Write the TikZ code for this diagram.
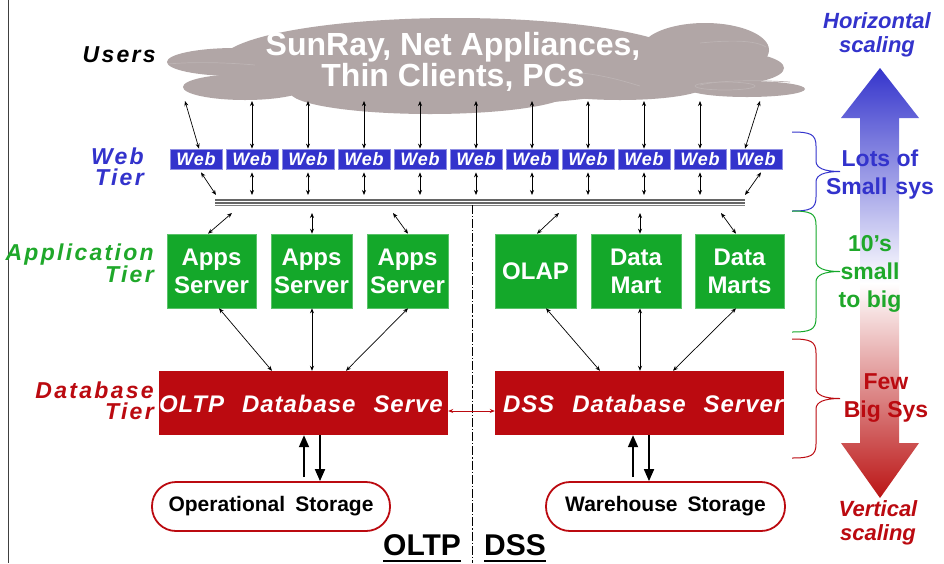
\documentclass[tikz,border=0pt]{standalone}
\usepackage{fontspec}
\setmainfont{Liberation Sans}
\newfontfamily\spacedfont[LetterSpace=10]{Liberation Sans}
\newfontfamily\lightspaced[LetterSpace=4]{Liberation Sans}
\usetikzlibrary{arrows.meta}
\definecolor{webblue}{HTML}{3333CC}
\definecolor{appgreen}{HTML}{14A82A}
\definecolor{labgreen}{HTML}{1FA82A}
\definecolor{dbred}{HTML}{BB0A10}
\definecolor{cloudc}{HTML}{B1A6A6}
\definecolor{cloudl}{HTML}{BDB4B4}
\definecolor{arrblue}{HTML}{3535CC}
\definecolor{arrred}{HTML}{BB1515}
\newcommand\myfs[2]{\fontsize{#1}{#2}\selectfont}
\tikzset{
  webbox/.style={fill=webblue, draw=webblue!55!white, line width=0.8pt, minimum width=52pt, minimum height=20pt, inner sep=0pt, text=white, font=\lightspaced\bfseries\itshape\myfs{18}{18}},
  appbox/.style={fill=appgreen, draw=appgreen!70!white, line width=0.6pt, minimum height=74pt, inner sep=0pt, text=white, align=center, font=\bfseries\myfs{24}{28}},
  dbbox/.style={fill=dbred, minimum width=289pt, minimum height=64pt, inner sep=0pt},
  dbtext/.style={text=white, inner sep=0pt, font=\lightspaced\bfseries\itshape\myfs{24}{24}},
  storebox/.style={draw=dbred, line width=1.8pt, fill=white, rounded corners=24pt, minimum height=49pt, inner sep=0pt, font=\bfseries\myfs{21}{21}},
  tierlab/.style={inner sep=0pt, align=right, font=\spacedfont\bfseries\itshape\myfs{23}{21}},
  sidelab/.style={inner sep=0pt, align=center, font=\bfseries\myfs{23}{28}},
  scalelab/.style={inner sep=0pt, align=center, font=\bfseries\itshape\myfs{22}{24}},
  arr/.style={{Stealth[length=5pt,width=4pt]}-{Stealth[length=5pt,width=4pt]}, line width=0.7pt},
  bigup/.style={-{Triangle[length=12pt,width=10pt]}, line width=1.8pt},
  bracepath/.style={line width=1pt}
}
\begin{document}
\begin{tikzpicture}[x=1pt,y=-1pt]
\useasboundingbox (0,0) rectangle (944,563);
\fill[white] (0,0) rectangle (944,563);
% left border
\coordinate (bordertop) at (8,0);
\coordinate (borderbot) at (8,563);
\draw[line width=1pt, black!75] (bordertop) -- (borderbot);

% cloud
\begin{scope}[fill=cloudc]
  \fill (235,62) ellipse [x radius=68, y radius=14];
  \fill (245,87) ellipse [x radius=62, y radius=13];
  \fill (705,50) ellipse [x radius=64, y radius=27];
  \fill (722,68) ellipse [x radius=62, y radius=17];
  \fill (747,89) ellipse [x radius=58, y radius=8];
  \fill (620,86) ellipse [x radius=85, y radius=14];
  \fill (455,62) ellipse [x radius=235, y radius=44];
  \fill (430,92) ellipse [x radius=140, y radius=22];
\end{scope}
\begin{scope}[draw=cloudl, line width=0.7pt]
  \draw (725,86) ellipse [x radius=30, y radius=4];
  \draw (700,85) .. controls (720,80) and (760,80) .. (790,82);
  \draw (168,64) .. controls (190,62) and (220,62) .. (255,65);
  \draw (570,72) .. controls (600,74) and (620,80) .. (640,86);
  \draw (700,43) .. controls (730,40) and (755,40) .. (766,47);
\end{scope}
\node[inner sep=0pt, text=white, align=center, font=\bfseries\myfs{32}{29}] (cloudtext) at (453,62) {SunRay, Net Appliances,\\Thin Clients, PCs};

% labels on the left
\node[inner sep=0pt, anchor=base east, font=\spacedfont\bfseries\itshape\myfs{23}{23}] (users) at (156,62) {Users};
\node[tierlab, text=webblue, anchor=east] (webtier) at (144,166.5) {Web\\Tier};
\node[tierlab, text=labgreen, anchor=east] (apptier) at (154,263.5) {Application\\Tier};
\node[tierlab, text=dbred, anchor=east] (dbtier) at (154,400.5) {Database\\Tier};

% web boxes
\foreach \i in {1,...,11} {
  \node[webbox] (web\i) at ({196+56*(\i-1)},159) {Web};
}
% cloud -> web arrows
\coordinate (cloudbase) at (0,101);
\coordinate (cl1) at (185,101);
\coordinate (cl11) at (760,101);
\draw[arr] (cl1) -- ([xshift=3pt]web1.north);
\draw[arr] (cl11) -- ([xshift=-11pt]web11.north);
\foreach \i in {2,...,10} {
  \draw[arr] (web\i.north |- cloudbase) -- (web\i.north);
}
% bus
\coordinate (busL) at (215,200);
\coordinate (busR) at (745,200);
\coordinate (busTop) at (0,195);
\coordinate (busBot) at (0,213);
\draw[line width=2.2pt, black!60] (busL) -- (busR);
\draw[line width=1.2pt, black!60] ([yshift=-2.9pt]busL) -- ([yshift=-2.9pt]busR);
\draw[line width=1pt, black!50] ([yshift=-5.7pt]busL) -- ([yshift=-5.7pt]busR);
% web -> bus arrows
\coordinate (bl1) at (216,195);
\coordinate (bl11) at (745,195);
\draw[arr] ([xshift=5pt,yshift=-3pt]web1.south) -- (bl1);
\draw[arr] ([xshift=5pt,yshift=-3pt]web11.south) -- (bl11);
\foreach \i in {2,...,10} {
  \draw[arr] ([yshift=-3pt]web\i.south) -- (web\i.south |- busTop);
}
% dash-dot separator
\coordinate (septop) at (472,205);
\coordinate (sepbot) at (472,563);
\draw[line width=0.8pt, dash pattern=on 9pt off 2pt on 1.2pt off 2pt] (septop) -- (sepbot);

% application tier
\node[appbox, minimum width=89pt] (apps1) at (211.5,271) {Apps\\Server};
\node[appbox, minimum width=81pt] (apps2) at (311.5,271) {Apps\\Server};
\node[appbox, minimum width=81pt] (apps3) at (407.5,271) {Apps\\Server};
\node[appbox, minimum width=81pt] (olap) at (535.5,271) {OLAP};
\node[appbox, minimum width=90pt] (dmart) at (636,271) {Data\\Mart};
\node[appbox, minimum width=89pt] (dmarts) at (739.5,271) {Data\\Marts};

% bus -> apps
\coordinate (ba1) at (232,213);
\coordinate (ba2) at (312,213);
\coordinate (ba3) at (393,213);
\coordinate (ba4) at (559,213);
\coordinate (ba5) at (640,213);
\coordinate (ba6) at (721,213);
\draw[arr] (ba1) -- ([xshift=-3.5pt]apps1.north);
\draw[arr] (ba2) -- ([xshift=0.5pt]apps2.north);
\draw[arr] (ba3) -- ([xshift=0.5pt]apps3.north);
\draw[arr] (ba4) -- ([xshift=1.5pt]olap.north);
\draw[arr] (ba5) -- ([xshift=4pt]dmart.north);
\draw[arr] (ba6) -- ([xshift=-3.5pt]dmarts.north);

% database tier
\node[dbbox] (oltp) at (303.5,403) {};
\node[dbbox] (dss) at (639.5,403) {};
\begin{scope}
  \clip (oltp.north west) rectangle (oltp.south east);
  \node[dbtext, anchor=west] (oltptext) at ([xshift=0pt,yshift=-1pt]oltp.west) {OLTP\hspace{18pt}Database\hspace{18pt}Serve};
\end{scope}
\begin{scope}
  \clip (dss.north west) rectangle (dss.south east);
  \node[dbtext, anchor=west] (dsstext) at ([xshift=8pt,yshift=-1pt]dss.west) {DSS\hspace{18pt}Database\hspace{18pt}Server};
\end{scope}

% apps -> db
\draw[arr] ([xshift=7.5pt]apps1.south) -- ([xshift=-31.5pt]oltp.north);
\draw[arr] ([xshift=0.5pt]apps2.south) -- ([xshift=8.5pt]oltp.north);
\draw[arr] ([xshift=0.5pt]apps3.south) -- ([xshift=42.5pt]oltp.north);
\draw[arr] ([xshift=10.5pt]olap.south) -- ([xshift=-39.5pt]dss.north);
\draw[arr] ([xshift=4pt]dmart.south) -- ([xshift=0.5pt]dss.north);
\draw[arr] ([xshift=-3.5pt]dmarts.south) -- ([xshift=33.5pt]dss.north);

% red link between db servers
\draw[arr, dbred] ([yshift=-8pt]oltp.east) -- ([yshift=-8pt]dss.west);

% storage
\node[storebox, minimum width=238pt] (opstore) at (271,506.5) {Operational\hspace{10pt}Storage};
\node[storebox, minimum width=239pt] (whstore) at (665.5,506.5) {Warehouse\hspace{10pt}Storage};
\draw[bigup] ([xshift=33pt,yshift=4pt]opstore.north) -- ([xshift=0.5pt]oltp.south);
\draw[bigup] ([xshift=16.5pt]oltp.south) -- ([xshift=49pt]opstore.north);
\draw[bigup] ([xshift=-32.5pt,yshift=4pt]whstore.north) -- ([xshift=-6.5pt]dss.south);
\draw[bigup] ([xshift=9.5pt]dss.south) -- ([xshift=-16.5pt]whstore.north);

% bottom labels
\node[inner sep=0pt, anchor=base west, font=\bfseries\myfs{30}{30}] (oltplab) at (383,555) {OLTP};
\node[inner sep=0pt, anchor=base west, font=\bfseries\myfs{30}{30}] (dsslab) at (484,555) {DSS};
\draw[line width=2pt] ([yshift=-6pt]oltplab.base west) -- ([yshift=-6pt]oltplab.base east);
\draw[line width=2pt] ([yshift=-6pt]dsslab.base west) -- ([yshift=-6pt]dsslab.base east);

% big scaling arrow
\shade[top color=arrblue, bottom color=arrred, middle color=white]
  (880,68) -- (919,118) -- (899,118) -- (899,443) -- (919,443) -- (880,498)
  -- (841,443) -- (860,443) -- (860,118) -- (841,118) -- cycle;

% braces
\draw[bracepath, webblue] (792,132) .. controls (810,132) and (816,134) .. (816,146) -- (816,161)
  .. controls (816,168) and (824,171.5) .. (840,171.5)
  .. controls (824,171.5) and (816,175) .. (816,182) -- (816,197)
  .. controls (816,209) and (810,211) .. (792,211);
\draw[bracepath, appgreen] (792,211) .. controls (810,211) and (816,213) .. (816,225) -- (816,261)
  .. controls (816,268) and (824,271.5) .. (840,271.5)
  .. controls (824,271.5) and (816,275) .. (816,282) -- (816,318)
  .. controls (816,330) and (810,332) .. (792,332);
\draw[bracepath, dbred] (792,339) .. controls (810,339) and (816,341) .. (816,353) -- (816,388)
  .. controls (816,395) and (824,398.5) .. (840,398.5)
  .. controls (824,398.5) and (816,402) .. (816,409) -- (816,444)
  .. controls (816,456) and (810,458) .. (792,458);

% right texts
\node[scalelab, text=webblue] (hscal) at (877,35) {Horizontal\\scaling};
\node[sidelab, text=webblue] (lots) at (880,175) {Lots of\\Small\hspace{8pt}sys};
\node[sidelab, text=labgreen] (tens) at (870,273.5) {10’s\\small\\to big};
\node[sidelab, text=dbred] (few) at (886,398) {Few\\Big Sys};
\node[scalelab, text=dbred] (vscal) at (878,522.5) {Vertical\\scaling};
\end{tikzpicture}
\end{document}
